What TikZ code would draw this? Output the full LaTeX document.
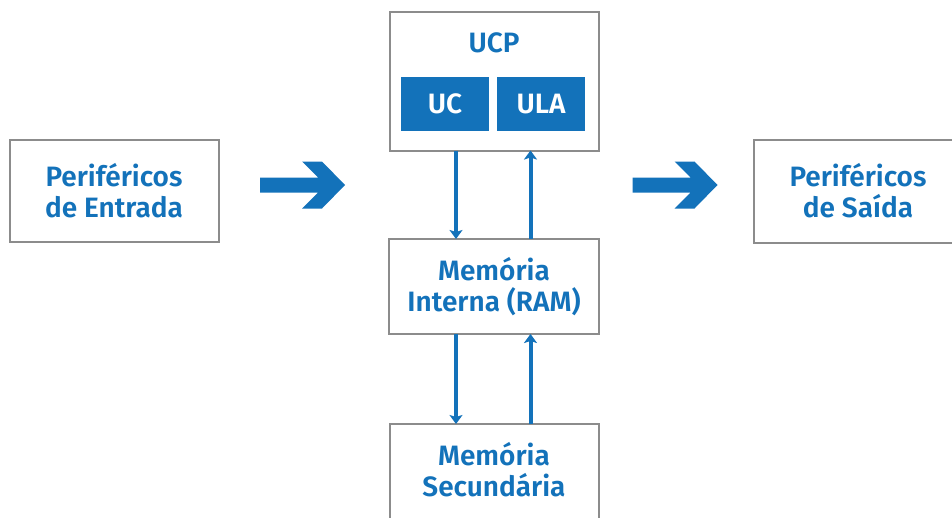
\documentclass[tikz,border=0pt]{standalone}
\usepackage{fontspec}
\setmainfont{Fira Sans}[BoldFont={Fira Sans SemiBold}]
\usetikzlibrary{arrows.meta}
\definecolor{hwblue}{RGB}{19,114,186}
\definecolor{hwgray}{RGB}{140,140,140}
\tikzset{
  hwbox/.style={draw=hwgray, line width=2pt, fill=white, inner sep=0pt, outer sep=0pt},
  unitbox/.style={fill=hwblue, inner sep=0pt, outer sep=0pt, text=white,
    font=\bfseries\fontsize{28}{31}\selectfont},
  lbl/.style={text=hwblue, align=center, inner sep=0pt,
    font=\bfseries\fontsize{28}{31}\selectfont},
  bus/.style={draw=hwblue, line width=4pt,
    -{Stealth[length=9pt, width=13pt, inset=2pt]}},
  fatarrow/.pic={
    \fill[hwblue] (0,-7.5) -- (58,-7.5) -- (42,-23.5) -- (62,-23.5) -- (85,0)
      -- (62,23.5) -- (42,23.5) -- (58,7.5) -- (0,7.5) -- cycle;
  }
}
\begin{document}
\begin{tikzpicture}[x=1pt, y=-1pt]
\useasboundingbox (0,0) rectangle (952,517);

% peripheral devices
\node[hwbox, lbl, minimum width=209pt, minimum height=102.5pt] (in) at (114,191)
  {Periféricos\\de Entrada};
\node[hwbox, lbl, minimum width=209pt, minimum height=103pt] (out) at (858,191)
  {Periféricos\\de Saída};

% central processing unit
\node[hwbox, minimum width=209pt, minimum height=139pt] (ucp) at (494,81) {};
\node[lbl] (ucptxt) at (494,43) {UCP};
\node[unitbox, minimum width=88pt, minimum height=54pt] (uc) at (445,104) {UC};
\node[unitbox, minimum width=88pt, minimum height=54pt] (ula) at (541,104) {ULA};

% memories
\node[hwbox, lbl, minimum width=209.5pt, minimum height=95pt] (ram) at (494,286.5)
  {Memória\\Interna (RAM)};
\node[hwbox, minimum width=209pt, minimum height=120pt, anchor=north] (sec) at (494,424) {};
\node[lbl] (sectxt) at (494,470) {Memória\\Secundária};

% data flow between units
\coordinate (a1) at (456,0);
\coordinate (a2) at (530.5,0);
\draw[bus] (ucp.south -| a1) -- (ram.north -| a1);
\draw[bus] (ram.north -| a2) -- (ucp.south -| a2);
\draw[bus] (ram.south -| a1) -- (sec.north -| a1);
\draw[bus] (sec.north -| a2) -- (ram.south -| a2);

% input / output flow
\pic at (260,185) {fatarrow};
\pic at (632.5,185) {fatarrow};
\end{tikzpicture}
\end{document}
